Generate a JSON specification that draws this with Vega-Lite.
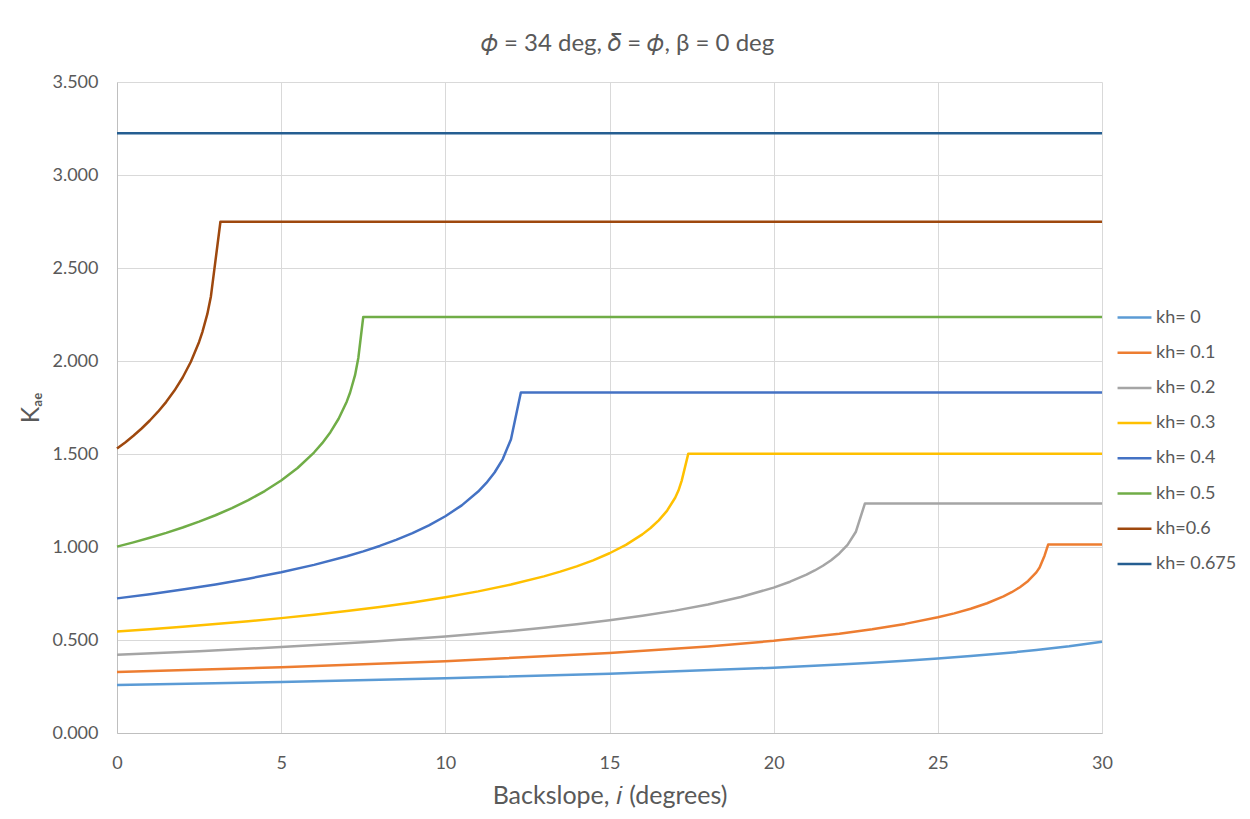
{
  "$schema": "https://vega.github.io/schema/vega-lite/v6.json",
  "width": 985,
  "height": 651,
  "autosize": {"type": "none"},
  "padding": {"left": 117, "top": 82, "right": 148, "bottom": 86},
  "background": "white",
  "config": {
    "view": {"stroke": null},
    "font": "Lato"
  },
  "title": {
    "text": "𝜙 = 34 deg, 𝛿 = 𝜙, β = 0 deg",
    "anchor": "middle",
    "fontSize": 24,
    "fontWeight": "normal",
    "font": "Lato",
    "color": "#595959",
    "offset": 17,
    "dx": 18
  },
  "data": {
    "values": [
      {"s": "kh= 0", "i": 0, "K": 0.2585},
      {"s": "kh= 0", "i": 5, "K": 0.2745},
      {"s": "kh= 0", "i": 10, "K": 0.2939},
      {"s": "kh= 0", "i": 15, "K": 0.3183},
      {"s": "kh= 0", "i": 20, "K": 0.3511},
      {"s": "kh= 0", "i": 22, "K": 0.3681},
      {"s": "kh= 0", "i": 23, "K": 0.3777},
      {"s": "kh= 0", "i": 24, "K": 0.3884},
      {"s": "kh= 0", "i": 25, "K": 0.4002},
      {"s": "kh= 0", "i": 26, "K": 0.4134},
      {"s": "kh= 0", "i": 27, "K": 0.4284},
      {"s": "kh= 0", "i": 28, "K": 0.4457},
      {"s": "kh= 0", "i": 29, "K": 0.4660},
      {"s": "kh= 0", "i": 30, "K": 0.4904},

      {"s": "kh= 0.1", "i": 0, "K": 0.3286},
      {"s": "kh= 0.1", "i": 5, "K": 0.3540},
      {"s": "kh= 0.1", "i": 10, "K": 0.3862},
      {"s": "kh= 0.1", "i": 15, "K": 0.4296},
      {"s": "kh= 0.1", "i": 18, "K": 0.4652},
      {"s": "kh= 0.1", "i": 20, "K": 0.4954},
      {"s": "kh= 0.1", "i": 22, "K": 0.5340},
      {"s": "kh= 0.1", "i": 23, "K": 0.5580},
      {"s": "kh= 0.1", "i": 24, "K": 0.5866},
      {"s": "kh= 0.1", "i": 25, "K": 0.6220},
      {"s": "kh= 0.1", "i": 25.5, "K": 0.6433},
      {"s": "kh= 0.1", "i": 26, "K": 0.6681},
      {"s": "kh= 0.1", "i": 26.5, "K": 0.6976},
      {"s": "kh= 0.1", "i": 27, "K": 0.7345},
      {"s": "kh= 0.1", "i": 27.25, "K": 0.7570},
      {"s": "kh= 0.1", "i": 27.5, "K": 0.7839},
      {"s": "kh= 0.1", "i": 27.75, "K": 0.8174},
      {"s": "kh= 0.1", "i": 28, "K": 0.8638},
      {"s": "kh= 0.1", "i": 28.1, "K": 0.8896},
      {"s": "kh= 0.1", "i": 28.25, "K": 0.9534},
      {"s": "kh= 0.1", "i": 28.36, "K": 1.0131},
      {"s": "kh= 0.1", "i": 30, "K": 1.0131},

      {"s": "kh= 0.2", "i": 0, "K": 0.4206},
      {"s": "kh= 0.2", "i": 2.5, "K": 0.4400},
      {"s": "kh= 0.2", "i": 5, "K": 0.4622},
      {"s": "kh= 0.2", "i": 7.5, "K": 0.4881},
      {"s": "kh= 0.2", "i": 10, "K": 0.5189},
      {"s": "kh= 0.2", "i": 11, "K": 0.5331},
      {"s": "kh= 0.2", "i": 12, "K": 0.5486},
      {"s": "kh= 0.2", "i": 13, "K": 0.5656},
      {"s": "kh= 0.2", "i": 14, "K": 0.5846},
      {"s": "kh= 0.2", "i": 15, "K": 0.6058},
      {"s": "kh= 0.2", "i": 16, "K": 0.6300},
      {"s": "kh= 0.2", "i": 17, "K": 0.6579},
      {"s": "kh= 0.2", "i": 18, "K": 0.6909},
      {"s": "kh= 0.2", "i": 19, "K": 0.7309},
      {"s": "kh= 0.2", "i": 20, "K": 0.7817},
      {"s": "kh= 0.2", "i": 20.5, "K": 0.8133},
      {"s": "kh= 0.2", "i": 21, "K": 0.8513},
      {"s": "kh= 0.2", "i": 21.25, "K": 0.8738},
      {"s": "kh= 0.2", "i": 21.5, "K": 0.8993},
      {"s": "kh= 0.2", "i": 21.75, "K": 0.9291},
      {"s": "kh= 0.2", "i": 22, "K": 0.9652},
      {"s": "kh= 0.2", "i": 22.25, "K": 1.0115},
      {"s": "kh= 0.2", "i": 22.5, "K": 1.0804},
      {"s": "kh= 0.2", "i": 22.78, "K": 1.2343},
      {"s": "kh= 0.2", "i": 30, "K": 1.2343},

      {"s": "kh= 0.3", "i": 0, "K": 0.5452},
      {"s": "kh= 0.3", "i": 1, "K": 0.5578},
      {"s": "kh= 0.3", "i": 2, "K": 0.5711},
      {"s": "kh= 0.3", "i": 3, "K": 0.5855},
      {"s": "kh= 0.3", "i": 4, "K": 0.6009},
      {"s": "kh= 0.3", "i": 5, "K": 0.6176},
      {"s": "kh= 0.3", "i": 6, "K": 0.6358},
      {"s": "kh= 0.3", "i": 7, "K": 0.6557},
      {"s": "kh= 0.3", "i": 8, "K": 0.6777},
      {"s": "kh= 0.3", "i": 9, "K": 0.7022},
      {"s": "kh= 0.3", "i": 10, "K": 0.7298},
      {"s": "kh= 0.3", "i": 11, "K": 0.7614},
      {"s": "kh= 0.3", "i": 12, "K": 0.7981},
      {"s": "kh= 0.3", "i": 13, "K": 0.8419},
      {"s": "kh= 0.3", "i": 13.5, "K": 0.8674},
      {"s": "kh= 0.3", "i": 14, "K": 0.8960},
      {"s": "kh= 0.3", "i": 14.5, "K": 0.9285},
      {"s": "kh= 0.3", "i": 15, "K": 0.9664},
      {"s": "kh= 0.3", "i": 15.5, "K": 1.0115},
      {"s": "kh= 0.3", "i": 16, "K": 1.0678},
      {"s": "kh= 0.3", "i": 16.25, "K": 1.1022},
      {"s": "kh= 0.3", "i": 16.5, "K": 1.1433},
      {"s": "kh= 0.3", "i": 16.75, "K": 1.1944},
      {"s": "kh= 0.3", "i": 17, "K": 1.2646},
      {"s": "kh= 0.3", "i": 17.1, "K": 1.3036},
      {"s": "kh= 0.3", "i": 17.2, "K": 1.3571},
      {"s": "kh= 0.3", "i": 17.4, "K": 1.5019},
      {"s": "kh= 0.3", "i": 30, "K": 1.5019},

      {"s": "kh= 0.4", "i": 0, "K": 0.7238},
      {"s": "kh= 0.4", "i": 1, "K": 0.7465},
      {"s": "kh= 0.4", "i": 2, "K": 0.7713},
      {"s": "kh= 0.4", "i": 3, "K": 0.7988},
      {"s": "kh= 0.4", "i": 4, "K": 0.8295},
      {"s": "kh= 0.4", "i": 5, "K": 0.8642},
      {"s": "kh= 0.4", "i": 6, "K": 0.9038},
      {"s": "kh= 0.4", "i": 7, "K": 0.9502},
      {"s": "kh= 0.4", "i": 7.5, "K": 0.9766},
      {"s": "kh= 0.4", "i": 8, "K": 1.0057},
      {"s": "kh= 0.4", "i": 8.5, "K": 1.0381},
      {"s": "kh= 0.4", "i": 9, "K": 1.0745},
      {"s": "kh= 0.4", "i": 9.5, "K": 1.1163},
      {"s": "kh= 0.4", "i": 10, "K": 1.1652},
      {"s": "kh= 0.4", "i": 10.5, "K": 1.2240},
      {"s": "kh= 0.4", "i": 11, "K": 1.2982},
      {"s": "kh= 0.4", "i": 11.25, "K": 1.3445},
      {"s": "kh= 0.4", "i": 11.5, "K": 1.4006},
      {"s": "kh= 0.4", "i": 11.75, "K": 1.4728},
      {"s": "kh= 0.4", "i": 12, "K": 1.5797},
      {"s": "kh= 0.4", "i": 12.3, "K": 1.8308},
      {"s": "kh= 0.4", "i": 30, "K": 1.8308},

      {"s": "kh= 0.5", "i": 0, "K": 1.0020},
      {"s": "kh= 0.5", "i": 0.5, "K": 1.0250},
      {"s": "kh= 0.5", "i": 1, "K": 1.0496},
      {"s": "kh= 0.5", "i": 1.5, "K": 1.0761},
      {"s": "kh= 0.5", "i": 2, "K": 1.1049},
      {"s": "kh= 0.5", "i": 2.5, "K": 1.1363},
      {"s": "kh= 0.5", "i": 3, "K": 1.1708},
      {"s": "kh= 0.5", "i": 3.5, "K": 1.2091},
      {"s": "kh= 0.5", "i": 4, "K": 1.2521},
      {"s": "kh= 0.5", "i": 4.5, "K": 1.3009},
      {"s": "kh= 0.5", "i": 5, "K": 1.3575},
      {"s": "kh= 0.5", "i": 5.5, "K": 1.4248},
      {"s": "kh= 0.5", "i": 6, "K": 1.5078},
      {"s": "kh= 0.5", "i": 6.25, "K": 1.5583},
      {"s": "kh= 0.5", "i": 6.5, "K": 1.6174},
      {"s": "kh= 0.5", "i": 6.75, "K": 1.6894},
      {"s": "kh= 0.5", "i": 7, "K": 1.7827},
      {"s": "kh= 0.5", "i": 7.1, "K": 1.8306},
      {"s": "kh= 0.5", "i": 7.25, "K": 1.9238},
      {"s": "kh= 0.5", "i": 7.35, "K": 2.0162},
      {"s": "kh= 0.5", "i": 7.5, "K": 2.2369},
      {"s": "kh= 0.5", "i": 30, "K": 2.2369},

      {"s": "kh=0.6", "i": 0, "K": 1.5291},
      {"s": "kh=0.6", "i": 0.25, "K": 1.5622},
      {"s": "kh=0.6", "i": 0.5, "K": 1.5981},
      {"s": "kh=0.6", "i": 0.75, "K": 1.6371},
      {"s": "kh=0.6", "i": 1, "K": 1.6800},
      {"s": "kh=0.6", "i": 1.25, "K": 1.7274},
      {"s": "kh=0.6", "i": 1.5, "K": 1.7805},
      {"s": "kh=0.6", "i": 1.75, "K": 1.8410},
      {"s": "kh=0.6", "i": 2, "K": 1.9113},
      {"s": "kh=0.6", "i": 2.25, "K": 1.9958},
      {"s": "kh=0.6", "i": 2.5, "K": 2.1026},
      {"s": "kh=0.6", "i": 2.6, "K": 2.1553},
      {"s": "kh=0.6", "i": 2.75, "K": 2.2520},
      {"s": "kh=0.6", "i": 2.86, "K": 2.3470},
      {"s": "kh=0.6", "i": 3.15, "K": 2.7485},
      {"s": "kh=0.6", "i": 30, "K": 2.7485},

      {"s": "kh= 0.675", "i": 0, "K": 3.224},
      {"s": "kh= 0.675", "i": 30, "K": 3.224}
    ]
  },
  "mark": {"type": "line", "strokeWidth": 2.5, "interpolate": "linear", "strokeJoin": "round"},
  "encoding": {
    "x": {
      "field": "i",
      "type": "quantitative",
      "scale": {"domain": [0, 30], "nice": false, "zero": false},
      "axis": {
        "title": "Backslope, 𝑖 (degrees)",
        "values": [0, 5, 10, 15, 20, 25, 30],
        "grid": true,
        "gridColor": "#D9D9D9",
        "gridWidth": 1,
        "domainColor": "#BFBFBF",
        "domainWidth": 1,
        "ticks": false,
        "labelFlush": false,
        "labelPadding": 21,
        "labelFontSize": 18,
        "labelColor": "#595959",
        "labelFont": "Lato",
        "titleFont": "Lato",
        "titleFontSize": 25,
        "titleFontWeight": "normal",
        "titleColor": "#595959",
        "titlePadding": 11
      }
    },
    "y": {
      "field": "K",
      "type": "quantitative",
      "scale": {"domain": [0, 3.5], "nice": false},
      "axis": {
        "title": "Kₐₑ",
        "values": [0, 0.5, 1, 1.5, 2, 2.5, 3, 3.5],
        "format": ".3f",
        "grid": true,
        "gridColor": "#D9D9D9",
        "gridWidth": 1,
        "domainColor": "#BFBFBF",
        "domainWidth": 1,
        "ticks": false,
        "labelFlush": false,
        "labelPadding": 19,
        "labelFontSize": 18,
        "labelColor": "#595959",
        "labelFont": "Lato",
        "titleFont": "Lato",
        "titleFontSize": 25,
        "titleFontWeight": "normal",
        "titleColor": "#595959",
        "titlePadding": 8
      }
    },
    "color": {
      "field": "s",
      "type": "nominal",
      "sort": ["kh= 0", "kh= 0.1", "kh= 0.2", "kh= 0.3", "kh= 0.4", "kh= 0.5", "kh=0.6", "kh= 0.675"],
      "scale": {
        "domain": ["kh= 0", "kh= 0.1", "kh= 0.2", "kh= 0.3", "kh= 0.4", "kh= 0.5", "kh=0.6", "kh= 0.675"],
        "range": ["#5B9BD5", "#ED7D31", "#A5A5A5", "#FFC000", "#4472C4", "#70AD47", "#9E480E", "#255E91"]
      },
      "legend": {
        "title": null,
        "orient": "none",
        "legendX": 999,
        "legendY": 217,
        "symbolType": "stroke",
        "symbolSize": 1150,
        "symbolStrokeWidth": 2.5,
        "labelFontSize": 18,
        "labelFont": "Lato",
        "labelColor": "#595959",
        "labelOffset": 3,
        "rowPadding": 7.2,
        "padding": 0
      }
    }
  }
}
